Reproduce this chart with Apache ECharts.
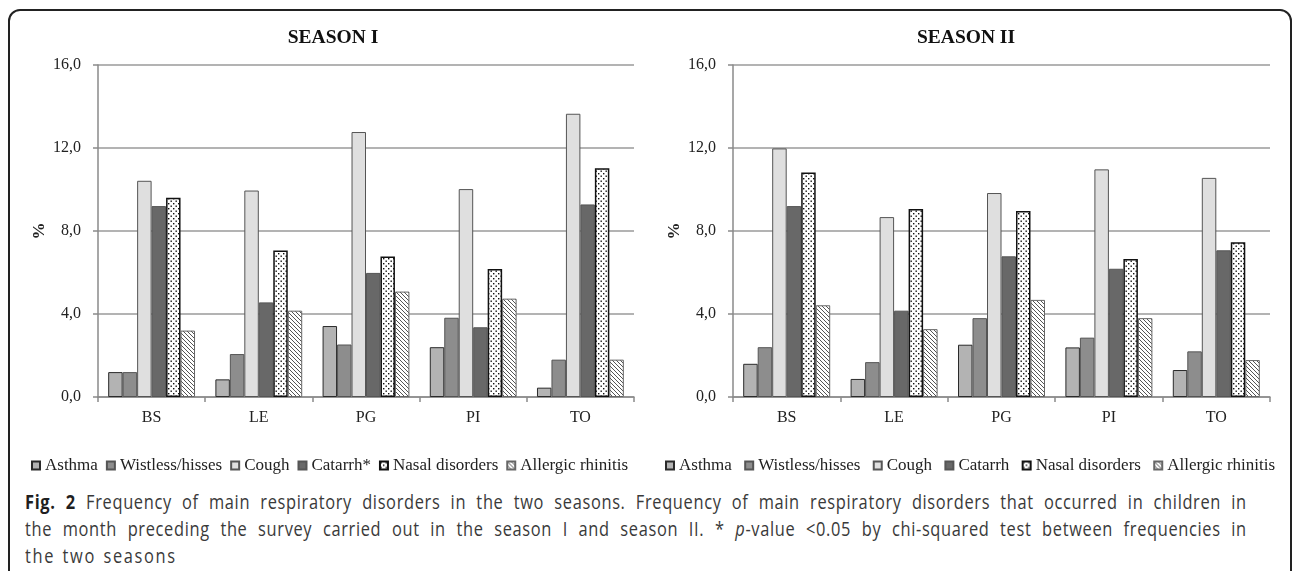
<!DOCTYPE html>
<html>
<head>
<meta charset="utf-8">
<script src="https://cdn.jsdelivr.net/npm/echarts@6/dist/echarts.min.js"></script>
<style>
  html, body { margin: 0; padding: 0; background: #fff; width: 1295px; height: 571px; overflow: hidden; }
  #frame { position: absolute; left: 8px; top: 9px; width: 1280px; height: 700px; border: 2px solid #222; border-radius: 12px; }
  #chart { position: absolute; left: 0; top: 0; width: 1295px; height: 480px; }
  #caption { position: absolute; left: 25px; top: 488px; width: 1490px; transform: scaleX(0.82); transform-origin: 0 0;
             font-family: "Open Sans", sans-serif; font-size: 20px; letter-spacing: 0.8px; line-height: 27px; color: #3a3a3a; }
  #caption .ln { white-space: nowrap; text-align: justify; text-align-last: justify; }
  #caption .last { white-space: nowrap; letter-spacing: 2px; word-spacing: 2px; }
  #caption b { color: #1f1f1f; }
</style>
</head>
<body>
<div id="frame"></div>
<div id="chart"></div>
<div id="caption">
  <div class="ln"><b>Fig. 2</b> Frequency of main respiratory disorders in the two seasons. Frequency of main respiratory disorders that occurred in children in</div>
  <div class="ln">the month preceding the survey carried out in the season I and season II. * <i>p</i>-value &lt;0.05 by chi-squared test between frequencies in</div>
  <div class="last">the two seasons</div>
</div>
<script>
// ---- data ----
const categories = ['BS', 'LE', 'PG', 'PI', 'TO'];
const seriesNames1 = ['Asthma', 'Wistless/hisses', 'Cough', 'Catarrh*', 'Nasal disorders', 'Allergic rhinitis'];
const seriesNames2 = ['Asthma', 'Wistless/hisses', 'Cough', 'Catarrh', 'Nasal disorders', 'Allergic rhinitis'];
const titles = ['SEASON I', 'SEASON II'];
const yMin = 0, yMax = 16, yStep = 4;

// Season I
const asthma1    = [1.20, 0.85, 3.42, 2.40, 0.45];
const wistless1  = [1.20, 2.07, 2.53, 3.82, 1.80];
const cough1     = [10.42, 9.95, 12.77, 10.02, 13.65];
const catarrh1   = [9.20, 4.56, 5.98, 3.36, 9.28];
const nasal1     = [9.60, 7.06, 6.77, 6.17, 11.02];
const allergic1  = [3.20, 4.16, 5.08, 4.74, 1.80];

// Season II
const asthma2    = [1.60, 0.87, 2.52, 2.39, 1.30];
const wistless2  = [2.40, 1.68, 3.80, 2.86, 2.20];
const cough2     = [11.98, 8.67, 9.83, 10.97, 10.56];
const catarrh2   = [9.20, 4.16, 6.78, 6.18, 7.07];
const nasal2     = [10.82, 9.06, 8.96, 6.65, 7.46];
const allergic2  = [4.42, 3.27, 4.68, 3.80, 1.78];

const season1 = [asthma1, wistless1, cough1, catarrh1, nasal1, allergic1];
const season2 = [asthma2, wistless2, cough2, catarrh2, nasal2, allergic2];

// ---- patterns ----
function dotPattern() {
  const c = document.createElement('canvas');
  c.width = 5; c.height = 5;
  const g = c.getContext('2d');
  g.fillStyle = '#fff'; g.fillRect(0, 0, 5, 5);
  g.fillStyle = '#111';
  g.fillRect(0.5, 0.5, 1.4, 1.4);
  g.fillRect(3, 3, 1.4, 1.4);
  return c;
}
function stripePattern() {
  const c = document.createElement('canvas');
  c.width = 4; c.height = 4;
  const g = c.getContext('2d');
  g.fillStyle = '#fff'; g.fillRect(0, 0, 4, 4);
  g.strokeStyle = '#555'; g.lineWidth = 1;
  g.beginPath();
  g.moveTo(-1, -1); g.lineTo(5, 5);
  g.moveTo(-1, 3); g.lineTo(1, 5);
  g.moveTo(3, -1); g.lineTo(5, 1);
  g.stroke();
  return c;
}
const styles = [
  { color: '#b3b3b3', borderColor: '#2a2a2a', borderWidth: 1 },
  { color: '#8d8d8d', borderColor: '#555', borderWidth: 1 },
  { color: '#dfdfdf', borderColor: '#555', borderWidth: 1 },
  { color: '#686868', borderColor: '#555', borderWidth: 1 },
  { color: { image: dotPattern(), repeat: 'repeat' }, borderColor: '#111', borderWidth: 1.5 },
  { color: { image: stripePattern(), repeat: 'repeat' }, borderColor: '#666', borderWidth: 1 }
];

const serif = '"Liberation Serif", "Times New Roman", serif';
const fmt = v => v.toFixed(1).replace('.', ',');

const grids = [
  { left: 98, right: 661, top: 65, height: 332 },
  { left: 733, right: 25, top: 65, height: 332 }
];

function xAx(i) {
  return {
    type: 'category', gridIndex: i, data: categories,
    axisLine: { lineStyle: { color: '#8a8a8a', width: 1.5 } },
    axisTick: { show: true, length: 5, lineStyle: { color: '#8a8a8a', width: 1.5 } },
    axisLabel: { fontFamily: serif, fontSize: 16, color: '#222', margin: 13 }
  };
}
function yAx(i) {
  return {
    type: 'value', gridIndex: i, min: yMin, max: yMax, interval: yStep,
    name: '%', nameLocation: 'middle', nameRotate: 90, nameGap: 50,
    nameTextStyle: { fontFamily: serif, fontSize: 17, fontWeight: 'bold', color: '#222' },
    axisLine: { show: true, lineStyle: { color: '#8a8a8a', width: 1.5 } },
    axisTick: { show: true, length: 5, lineStyle: { color: '#8a8a8a', width: 1.5 } },
    splitLine: { lineStyle: { color: '#9a9a9a', width: 1.5 } },
    axisLabel: { fontFamily: serif, fontSize: 16, color: '#222', margin: 17, formatter: fmt }
  };
}

const series = [];
[season1, season2].forEach((season, gi) => {
  const names = gi === 0 ? seriesNames1 : seriesNames2;
  season.forEach((vals, si) => {
    series.push({
      type: 'bar', name: names[si], xAxisIndex: gi, yAxisIndex: gi,
      data: vals, barGap: '0%', barCategoryGap: '19%',
      itemStyle: styles[si], emphasis: { disabled: true }, silent: true
    });
  });
});

const titleStyle = { fontFamily: serif, fontSize: 19.5, fontWeight: 'bold', color: '#111' };
const legendText = { fontFamily: serif, fontSize: 17, color: '#222' };

const chart = echarts.init(document.getElementById('chart'), null, { renderer: 'canvas' });
chart.setOption({
  animation: false,
  title: [
    { text: titles[0], left: 328, top: 23, textAlign: 'center', textStyle: titleStyle },
    { text: titles[1], left: 961, top: 23, textAlign: 'center', textStyle: titleStyle }
  ],
  legend: [
    { data: seriesNames1, left: 31, top: 457, icon: 'rect', itemWidth: 8, itemHeight: 8, itemGap: 8, padding: 0,
      textStyle: legendText, selectedMode: false },
    { data: seriesNames2, left: 665, top: 457, icon: 'rect', itemWidth: 8, itemHeight: 8, itemGap: 12.3, padding: 0,
      textStyle: legendText, selectedMode: false }
  ],
  grid: grids,
  xAxis: [xAx(0), xAx(1)],
  yAxis: [yAx(0), yAx(1)],
  series: series
});
</script>
</body>
</html>
